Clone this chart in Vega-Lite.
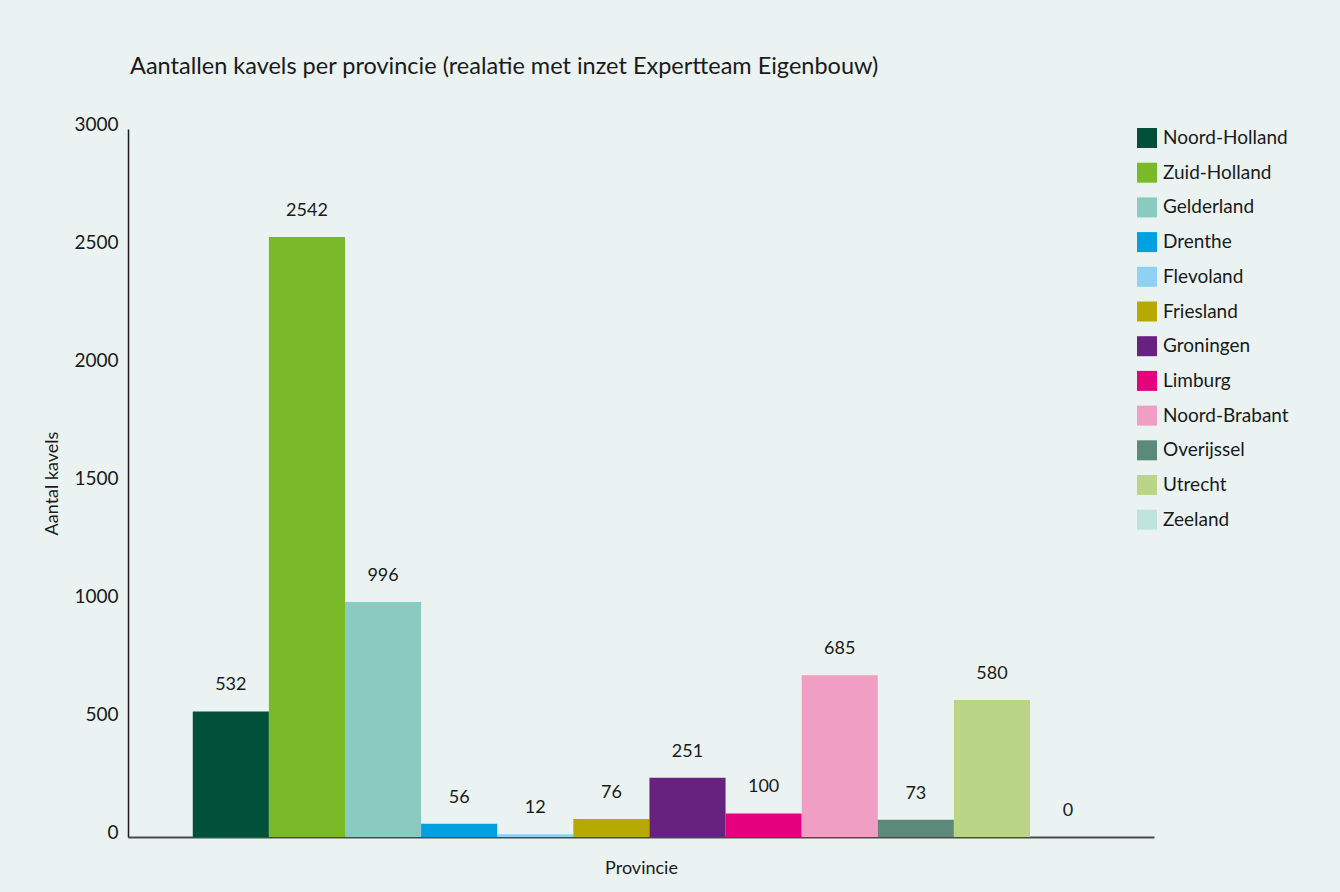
{
  "$schema": "https://vega.github.io/schema/vega-lite/v6.json",
  "autosize": "none",
  "width": 1026,
  "height": 708,
  "padding": {"left": 128, "top": 129, "right": 186, "bottom": 55},
  "background": "#eaf3f1",
  "title": {
    "text": "Aantallen kavels per provincie (realatie met inzet Expertteam Eigenbouw)",
    "anchor": "start",
    "frame": "group",
    "offset": 18,
    "baseline": "alphabetic",
    "dx": 2,
    "font": "Lato",
    "fontSize": 23.5,
    "fontWeight": "normal",
    "color": "#1a1a1a"
  },
  "config": {
    "view": {"stroke": null},
    "font": "Lato",
    "text": {"font": "Lato"}
  },
  "data": {
    "values": [
      {"Provincie": "Noord-Holland", "Aantal": 532},
      {"Provincie": "Zuid-Holland", "Aantal": 2542},
      {"Provincie": "Gelderland", "Aantal": 996},
      {"Provincie": "Drenthe", "Aantal": 56},
      {"Provincie": "Flevoland", "Aantal": 12},
      {"Provincie": "Friesland", "Aantal": 76},
      {"Provincie": "Groningen", "Aantal": 251},
      {"Provincie": "Limburg", "Aantal": 100},
      {"Provincie": "Noord-Brabant", "Aantal": 685},
      {"Provincie": "Overijssel", "Aantal": 73},
      {"Provincie": "Utrecht", "Aantal": 580},
      {"Provincie": "Zeeland", "Aantal": 0}
    ]
  },
  "encoding": {
    "x": {
      "field": "Provincie",
      "type": "nominal",
      "sort": null,
      "scale": {"paddingInner": 0, "paddingOuter": 0.74, "align": 0.575},
      "axis": {
        "title": "Provincie",
        "labels": false,
        "ticks": false,
        "domainColor": "#4a4a4a",
        "domainWidth": 2,
        "titleFont": "Lato",
        "titleFontSize": 18,
        "titleFontWeight": "normal",
        "titleColor": "#1a1a1a",
        "titleBaseline": "alphabetic",
        "titlePadding": 36
      }
    },
    "y": {
      "field": "Aantal",
      "type": "quantitative",
      "scale": {"domain": [0, 3000], "nice": false},
      "axis": {
        "title": "Aantal kavels",
        "values": [0, 500, 1000, 1500, 2000, 2500, 3000],
        "format": "d",
        "grid": false,
        "ticks": false,
        "domainColor": "#1a1a1a",
        "domainWidth": 1.5,
        "labelFont": "Lato",
        "labelFontSize": 19,
        "labelColor": "#1a1a1a",
        "labelPadding": 10,
        "labelOffset": -5,
        "labelFlush": false,
        "labelOverlap": false,
        "titleFont": "Lato",
        "titleFontSize": 18,
        "titleFontWeight": "normal",
        "titleColor": "#1a1a1a",
        "titleBaseline": "alphabetic",
        "titleX": -71,
        "titleY": 354,
        "titleAngle": -90
      }
    }
  },
  "layer": [
    {
      "mark": {"type": "bar"},
      "encoding": {
        "color": {
          "field": "Provincie",
          "type": "nominal",
          "sort": null,
          "scale": {
            "domain": ["Noord-Holland", "Zuid-Holland", "Gelderland", "Drenthe", "Flevoland", "Friesland", "Groningen", "Limburg", "Noord-Brabant", "Overijssel", "Utrecht", "Zeeland"],
            "range": ["#01513a", "#7aba28", "#89cbc0", "#01a0e1", "#8fd1f2", "#b5a902", "#67217f", "#e5007e", "#f09ec4", "#5b8a7b", "#b9d585", "#bfe3dd"]
          },
          "legend": {
            "title": null,
            "orient": "none",
            "legendX": 1009,
            "legendY": -1,
            "symbolType": "square",
            "symbolSize": 400,
            "symbolStrokeWidth": 0,
            "symbolOpacity": 1,
            "labelFont": "Lato",
            "labelFontSize": 19,
            "labelColor": "#1a1a1a",
            "labelOffset": 6,
            "rowPadding": 14.7,
            "labelLimit": 300
          }
        }
      }
    },
    {
      "mark": {"type": "text", "baseline": "alphabetic", "dy": -21, "fontSize": 18, "color": "#1a1a1a", "font": "Lato"},
      "encoding": {
        "text": {"field": "Aantal", "type": "quantitative"}
      }
    }
  ]
}
